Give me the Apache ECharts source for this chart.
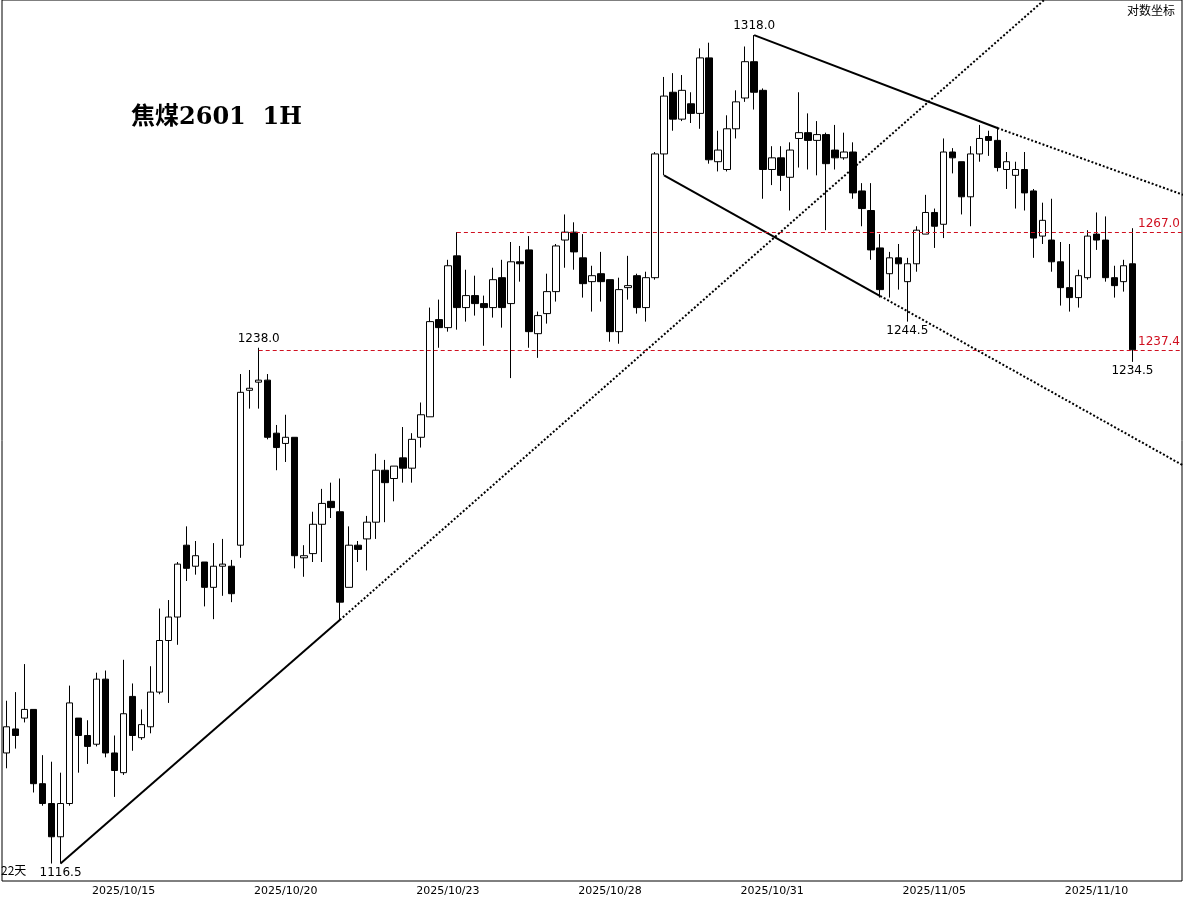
<!DOCTYPE html>
<html><head><meta charset="utf-8">
<script src="https://cdn.jsdelivr.net/npm/echarts@6/dist/echarts.min.js"></script>
<style>html,body{margin:0;padding:0;background:#fff}#c{width:1187px;height:899px}</style>
</head><body><div id="c"></div>
<script>
// trading days and bars per day (first day: only its last bar)
const days = ['2025/10/10','2025/10/13','2025/10/14','2025/10/15','2025/10/16','2025/10/17','2025/10/20','2025/10/21','2025/10/22','2025/10/23','2025/10/24','2025/10/27','2025/10/28','2025/10/29','2025/10/30','2025/10/31','2025/11/03','2025/11/04','2025/11/05','2025/11/06','2025/11/07','2025/11/10'];
const barsPerDay = [1,6,6,6,6,6,6,6,6,6,6,6,6,6,6,6,6,6,6,6,6,5];
const padBars = 5;
const tickDays = ['2025/10/15','2025/10/20','2025/10/23','2025/10/28','2025/10/31','2025/11/05','2025/11/10'];

// OHLC, one entry per bar
const opens  = [1141.5,1147,1149.5,1151.5,1134.5,1130,1122.5,1130,1149.5,1145.5,1143.5,1158.5,1141.5,1137,1154.5,1145,1147.5,1155.5,1167.5,1173,1190,1185,1186,1180,1185,1185,1190,1227.5,1229.5,1230,1217,1214.5,1216,1187,1188,1195,1200.5,1198,1180,1190,1191.5,1195.5,1208,1206,1211,1208.5,1216,1221,1245,1243,1261,1248,1251,1249,1248,1255.5,1249,1259.5,1262.5,1241.5,1246.5,1252,1265,1267,1260.5,1254.5,1256.5,1255,1242,1253,1256,1248,1255.5,1287,1303,1296,1300,1297.5,1312,1285,1283,1293.5,1301.5,1311,1303.5,1283,1286,1281,1291,1292.5,1290.5,1292,1288,1286,1287.5,1277.5,1272.5,1263,1256.5,1260.5,1254.5,1259,1266.5,1272,1269,1287.5,1285,1276,1287,1291.5,1290.5,1283,1281.5,1283,1277.5,1266,1265,1259.5,1253,1250.5,1255.5,1266.5,1265,1255.5,1254.5,1259];
const closes = [1147.5,1145.5,1151.5,1134.5,1130,1122.5,1130,1153,1145.5,1143,1158.5,1141.5,1137.5,1150.5,1145.5,1148,1155.5,1167.5,1173,1185.5,1184.5,1187.5,1180,1185,1185.5,1178.5,1227,1228,1230,1216,1213.5,1216,1187.5,1187.5,1195,1200,1199,1176.5,1190,1189,1195.5,1208,1205,1209,1208.5,1215.5,1221.5,1244.5,1243,1258.5,1248,1251,1249,1248,1255,1248,1259.5,1259,1242,1246,1252,1263.5,1267,1262,1254,1256,1254.5,1242,1252.5,1253.5,1248,1255.5,1287,1302,1296,1303.5,1297.5,1312,1285.5,1288,1293.5,1300.5,1311,1303,1283,1286,1281.5,1288,1292.5,1290.5,1292,1284.5,1286,1287.5,1277,1273,1262.5,1252.5,1260.5,1259,1259,1267.5,1272,1268.5,1287.5,1286,1276,1287,1291,1290.5,1283.5,1285,1283,1277,1265.5,1270,1259.5,1253,1250.5,1256,1266,1265,1255.5,1253.5,1258.5,1237.5];
const lows   = [1138,1142.5,1148.5,1132.5,1129.5,1116.5,1116.5,1129.5,1137,1139,1143,1140.5,1131.5,1136.5,1142,1144.5,1146,1155,1153,1166.5,1181.5,1183,1175.5,1172.5,1178,1176.5,1187,1223,1223,1215.5,1208,1210,1184.5,1182.5,1186,1186,1196.5,1172.3,1180,1186,1184,1191.5,1195.5,1200.5,1205,1205,1213.5,1221,1238,1242,1242.5,1244.5,1246,1238.5,1245.5,1243,1230.5,1254.5,1238,1235.5,1244,1249.5,1258,1257.5,1250.5,1247,1249.5,1239.5,1239,1250,1246.5,1244.5,1255,1281.5,1293,1295.5,1295,1293.5,1284.5,1282.5,1282.5,1291,1300.5,1298.5,1275.5,1279,1277.5,1272.5,1283.5,1283,1281.5,1267.5,1283,1285.5,1275.5,1268.5,1260,1250.5,1250.5,1252.5,1244.5,1257,1266.5,1263,1265.5,1282,1271.5,1268.5,1285,1286.5,1282.5,1278,1273,1272.5,1260.5,1264,1257,1248.5,1247,1248,1255,1262.5,1254.5,1250.5,1252,1234.5];
const highs  = [1153.5,1155.5,1162,1151.5,1141,1139.5,1137,1157,1149.5,1149,1160,1160.5,1145.5,1163,1157.5,1151.5,1161.5,1175,1177,1186,1194.5,1191,1186,1190.5,1191.5,1186.5,1231.5,1232.5,1238,1231.5,1219,1221.5,1216,1190,1198,1203.5,1205,1206,1194.5,1191,1197,1212,1210.5,1209,1218.5,1217,1224.5,1248,1250,1260,1267,1257.5,1256,1251,1258,1260,1264.5,1263.5,1266,1247,1256.5,1264,1271.5,1269.5,1266.5,1258.5,1262,1255,1255.5,1261,1256.5,1257,1287.5,1307,1308,1307.5,1303,1314.5,1316,1293,1297,1303.5,1315,1318,1304,1289,1289,1290,1303,1297.5,1295.5,1292.5,1294.5,1292.5,1290,1279.5,1279.5,1266.5,1262,1264,1260.5,1268.5,1276.5,1273,1291,1288.5,1285,1289,1294.5,1293,1294,1287.5,1285,1287.5,1278,1274.5,1275.5,1264.5,1264,1257.5,1267.5,1272,1271,1258.5,1260,1268];

// trend lines: [bar index, price]
const upTrendSolid  = [[6,1116.5],[37,1172.3]];
const upTrendDotted = [[37,1172.3],[116,1329]];
const topSolid      = [[83,1318],[110,1293.7]];
const topDotted     = [[110,1293.7],[131,1276.2]];
const botSolid      = [[73,1281.5],[97,1250.9]];
const botDotted     = [[97,1250.9],[131,1208.7]];
const levels = [{v:1267.0, from:50},{v:1237.4, from:28}];
const notes = [{i:83,v:1318,t:'1318.0',pos:'top'},{i:28,v:1238,t:'1238.0',pos:'top'},{i:100,v:1244.5,t:'1244.5',pos:'bottom'},{i:125,v:1234.5,t:'1234.5',pos:'bottom'},{i:6,v:1116.5,t:'1116.5',pos:'bottom'}];

const categories = [];
days.forEach((d,k)=>{for(let j=0;j<barsPerDay[k];j++) categories.push(d);});
for(let j=0;j<padBars;j++) categories.push('');
const N = categories.length;
const tickIdx = tickDays.map(d=>categories.indexOf(d));
const ohlc = opens.map((o,i)=>[o,closes[i],lows[i],highs[i]]);

const chart = echarts.init(document.getElementById('c'));
const lineS = (data,type)=>({type:'line',xAxisIndex:1,data,symbol:'none',silent:true,animation:false,
  lineStyle:{color:'#000',width:2,type}});
chart.setOption({
  animation:false,
  grid:{left:2,right:5,top:0,bottom:18,show:true,borderColor:'#000',borderWidth:1},
  xAxis:[{type:'category',data:categories,boundaryGap:true,
    axisLine:{show:false},axisTick:{show:false},splitLine:{show:false},
    axisLabel:{interval:(i)=>tickIdx.includes(i),color:'#000',fontSize:11,fontFamily:'DejaVu Sans',margin:5}},
   {type:'value',min:-0.5,max:N-0.5,show:false}],
  yAxis:{type:'log',min:1112.6,max:1327.3,show:false},
  series:[
    {type:'candlestick',data:ohlc,barWidth:7,
     itemStyle:{color:'#fff',color0:'#000',borderColor:'#000',borderColor0:'#000',borderWidth:1},
     markPoint:{symbol:'circle',symbolSize:0,
       data:notes.map(n=>({coord:[n.i,n.v],value:n.t,
         label:{show:true,formatter:n.t,position:n.pos,distance:3,color:'#000',fontSize:12,fontFamily:'DejaVu Sans'}}))}},
    lineS(upTrendSolid,'solid'),lineS(upTrendDotted,'dotted'),
    lineS(topSolid,'solid'),lineS(topDotted,'dotted'),
    lineS(botSolid,'solid'),lineS(botDotted,'dotted'),
    {type:'line',xAxisIndex:1,data:[],markLine:{symbol:'none',silent:true,
      lineStyle:{color:'#d01020',type:[4,3],width:1},
      data:levels.map(l=>[{coord:[l.from,l.v]},{coord:[N-0.5,l.v],
        label:{show:true,position:'insideEndTop',formatter:l.v.toFixed(1),color:'#d01020',fontSize:12,fontFamily:'DejaVu Sans',distance:[2,2]}}])}}
  ],
  graphic:[
    {type:'text',left:131,top:106,style:{text:'焦煤2601  1H',font:'bold 24px "DejaVu Serif","Noto Sans CJK SC"',fill:'#000'}},
    {type:'text',right:12,top:4,style:{text:'对数坐标',font:'12px "Noto Sans CJK SC"',fill:'#000'}},
    {type:'text',left:1,top:864,style:{text:'22天',font:'12px "Noto Sans CJK SC"',fill:'#000'}}
  ]
});
</script></body></html>
